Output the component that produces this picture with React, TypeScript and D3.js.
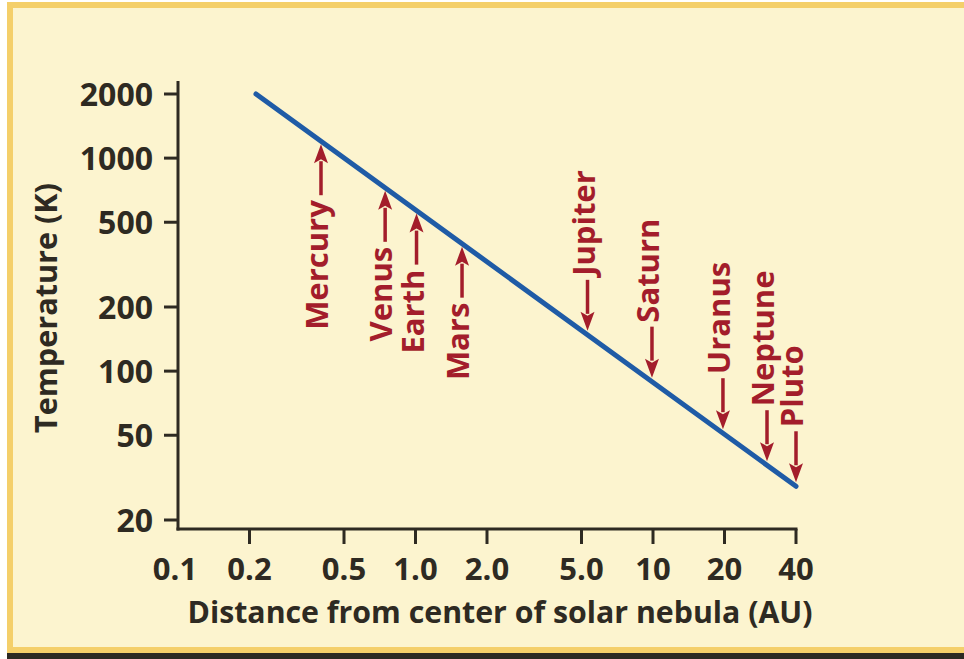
import React from "react";
import * as d3 from "d3";

// ---- data ----
const xTickValues = [0.1, 0.2, 0.5, 1.0, 2.0, 5.0, 10, 20, 40];
const xTickLabels = ["0.1", "0.2", "0.5", "1.0", "2.0", "5.0", "10", "20", "40"];
const yTickValues = [2000, 1000, 500, 200, 100, 50, 20];
const yTickLabels = ["2000", "1000", "500", "200", "100", "50", "20"];

const lineDistance = [0.213, 40];
const lineTemperature = [2000, 28.8];

const planetNames = ["Mercury", "Venus", "Earth", "Mars", "Jupiter", "Saturn", "Uranus", "Neptune", "Pluto"];
const planetDistance = [0.4, 0.745, 1.01, 1.57, 5.3, 9.9, 19.7, 30.2, 40];
const planetLabelSide = ["below", "below", "below", "below", "above", "above", "above", "above", "above"];

const xTitle = "Distance from center of solar nebula (AU)";
const yTitle = "Temperature (K)";

// ---- styles ----
const W = 964;
const H = 659;
const FONT = "'Open Sans', 'DejaVu Sans', sans-serif";
const INK = "#2e2a22";
const RED = "#a31d2b";
const BLUE = "#1f5ba6";
const CREAM = "#fcf4cf";
const GOLD = "#f4cf6a";

export default function App() {
  const x = d3.scaleLog().domain([0.1, 40]).range([178, 796]);
  const y = d3.scaleLog().domain([20, 2000]).range([520, 94]);
  const axisY = 529;

  const linePts: [number, number][] = lineDistance.map((d, i) => [d, lineTemperature[i]]);
  const lineGen = d3
    .line<[number, number]>()
    .x((d) => x(d[0]))
    .y((d) => y(d[1]));

  // temperature on the line at distance d (straight line in log-log space)
  const lineTempAt = (d: number) => {
    const t = (Math.log(d) - Math.log(lineDistance[0])) / (Math.log(lineDistance[1]) - Math.log(lineDistance[0]));
    return Math.exp(Math.log(lineTemperature[0]) + t * (Math.log(lineTemperature[1]) - Math.log(lineTemperature[0])));
  };

  const arrowLen = 51;
  const headLen = 17;
  const headW = 7;

  return (
    <svg width={W} height={H} style={{ position: "absolute", left: 0, top: 0, display: "block" }}>
      <rect x={0} y={0} width={W} height={H} fill="#ffffff" />
      <rect x={7} y={2} width={W} height={652} fill={GOLD} />
      <rect x={13} y={8} width={W} height={639} fill={CREAM} />
      <rect x={7} y={653} width={W} height={6} fill="#2b2922" />

      {/* axes */}
      <line x1={178} y1={81} x2={178} y2={axisY + 1.5} stroke={INK} strokeWidth={3} />
      <line x1={176.5} y1={axisY} x2={x(40) + 1.5} y2={axisY} stroke={INK} strokeWidth={3} />

      {yTickValues.map((v, i) => (
        <g key={"yt" + i}>
          <line x1={164} x2={178} y1={y(v)} y2={y(v)} stroke={INK} strokeWidth={3} />
          <text
            x={153}
            y={y(v) + 11.5}
            textAnchor="end"
            fontFamily={FONT}
            fontWeight={700}
            fontSize={32}
            fill={INK}
          >
            {yTickLabels[i]}
          </text>
        </g>
      ))}

      {xTickValues.map((v, i) => (
        <g key={"xt" + i}>
          {i > 0 && <line x1={x(v)} x2={x(v)} y1={axisY} y2={axisY + 15} stroke={INK} strokeWidth={3} />}
          <text
            x={i === 0 ? x(v) - 3 : x(v)}
            y={580}
            textAnchor="middle"
            fontFamily={FONT}
            fontWeight={700}
            fontSize={31}
            fill={INK}
          >
            {xTickLabels[i]}
          </text>
        </g>
      ))}

      <text
        x={500}
        y={623}
        textAnchor="middle"
        fontFamily={FONT}
        fontWeight={700}
        fontSize={30}
        fill={INK}
        textLength={625}
        lengthAdjust="spacingAndGlyphs"
      >
        {xTitle}
      </text>
      <text
        transform={`translate(57,308) rotate(-90)`}
        textAnchor="middle"
        fontFamily={FONT}
        fontWeight={700}
        fontSize={30}
        fill={INK}
        textLength={250}
        lengthAdjust="spacingAndGlyphs"
      >
        {yTitle}
      </text>

      {/* trend line */}
      <path d={lineGen(linePts) || ""} fill="none" stroke={BLUE} strokeWidth={5} strokeLinecap="round" />

      {/* planet arrows */}
      {planetNames.map((name, i) => {
        const px = x(planetDistance[i]);
        const ly = y(lineTempAt(planetDistance[i]));
        const below = planetLabelSide[i] === "below";
        const tip = below ? ly + 3 : ly - 4;
        const tail = below ? tip + arrowLen : tip - arrowLen;
        const dir = below ? 1 : -1;
        const headBase = tip + dir * headLen;
        return (
          <g key={name}>
            <line x1={px} x2={px} y1={tail} y2={headBase} stroke={RED} strokeWidth={3.5} />
            <path
              d={`M${px},${tip} L${px - headW},${headBase + dir * 2} L${px},${headBase - dir * 2} L${px + headW},${headBase + dir * 2} Z`}
              fill={RED}
            />
            <text
              transform={`translate(${px + 7},${below ? tail + 5 : tail - 4}) rotate(-90)`}
              textAnchor={below ? "end" : "start"}
              fontFamily={FONT}
              fontWeight={700}
              fontSize={31}
              fill={RED}
            >
              {name}
            </text>
          </g>
        );
      })}
    </svg>
  );
}
